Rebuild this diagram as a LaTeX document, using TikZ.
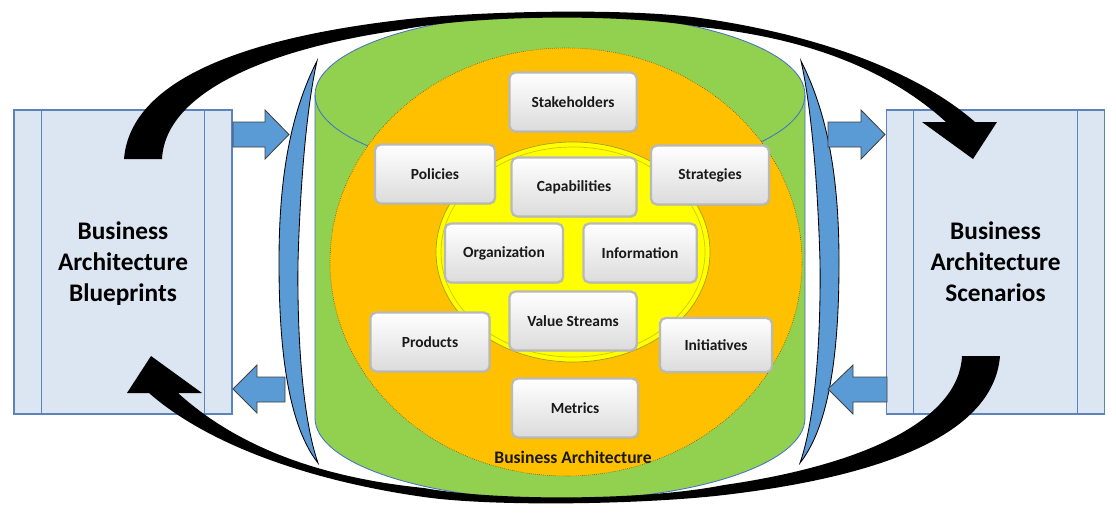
\documentclass[tikz,border=0pt]{standalone}
\usepackage{fontspec}
\setmainfont{Carlito}
\usetikzlibrary{shadows}

\definecolor{cangreen}{HTML}{92D050}
\definecolor{canline}{HTML}{4472C4}
\definecolor{ringorange}{HTML}{FFC000}
\definecolor{coreyellow}{HTML}{FFFF00}
\definecolor{arrowblue}{HTML}{5B9BD5}
\definecolor{boxfill}{HTML}{DCE6F2}
\definecolor{boxline}{HTML}{5B84BD}

\tikzset{
	bluebox/.style={draw=boxline, fill=boxfill, line width=0.8pt, minimum width=5.45cm, minimum height=7.6cm, align=center, font=\fontsize{18}{22}\selectfont\bfseries},
	button/.style={draw=gray!55, line width=1.6pt, rounded corners=4pt, top color=white, bottom color=gray!28, minimum height=1.47cm, align=center, font=\fontsize{11}{12}\selectfont\bfseries, text=black!90, drop shadow={opacity=0.25, shadow xshift=0.8pt, shadow yshift=-0.8pt}},
	blockarrow/.style={fill=arrowblue, draw=black!75, line width=0.6pt},
	crescent/.style={fill=arrowblue, draw=black, line width=0.6pt}
}

\begin{document}
\begin{tikzpicture}[x=0.025cm, y=-0.025cm]
	\useasboundingbox (0,0) rectangle (1116,514);
	% side boxes
	\node[bluebox, text depth=-0.15cm] (blueprints) at (123,262) {Business\\Architecture\\Blueprints};
	\node[bluebox, text depth=-0.15cm] (scenarios) at (995.5,262) {Business\\Architecture\\Scenarios};
	\draw[boxline, line width=0.8pt] ([xshift=0.7cm]blueprints.north west) -- ([xshift=0.7cm]blueprints.south west);
	\draw[boxline, line width=0.8pt] ([xshift=-0.7cm]blueprints.north east) -- ([xshift=-0.7cm]blueprints.south east);
	\draw[boxline, line width=0.8pt] ([xshift=0.7cm]scenarios.north west) -- ([xshift=0.7cm]scenarios.south west);
	\draw[boxline, line width=0.8pt] ([xshift=-0.7cm]scenarios.north east) -- ([xshift=-0.7cm]scenarios.south east);
	% the can
	\draw[fill=cangreen, draw=canline, line width=0.6pt] (315,95) -- (315,418) arc[start angle=180, end angle=0, x radius=245, y radius=82] -- (805,95) arc[start angle=0, end angle=-180, x radius=245, y radius=82] -- cycle;
	\draw[canline, line width=0.6pt] (315,95) arc[start angle=180, end angle=0, x radius=245, y radius=82];
	\draw[fill=ringorange, draw=brown!50!black, densely dotted, line width=0.4pt] (566,262) ellipse [x radius=236, y radius=214];
	\draw[fill=coreyellow, draw=olive!80, line width=0.5pt] (573,252) ellipse [x radius=137, y radius=110];
	\draw[yellow!60!olive, line width=0.5pt] (573,252) ellipse [x radius=132, y radius=105];
	% buttons
	\node[button, minimum width=3.18cm] (stake) at (573,102) {Stakeholders};
	\node[button, minimum width=3.0cm] (pol) at (435,174) {Policies};
	\node[button, minimum width=3.12cm] (cap) at (574,187) {Capabilities};
	\node[button, minimum width=2.95cm] (strat) at (710,175) {Strategies};
	\node[button, minimum width=2.95cm] (org) at (504,253) {Organization};
	\node[button, minimum width=2.83cm] (info) at (640,253) {Information};
	\node[button, minimum width=3.18cm] (value) at (573,321) {Value Streams};
	\node[button, minimum width=2.98cm] (prod) at (430,342) {Products};
	\node[button, minimum width=2.8cm, minimum height=1.35cm] (init) at (716,345) {Initiatives};
	\node[button, minimum width=3.15cm] (metr) at (575,408) {Metrics};
	\node[font=\fontsize{12.5}{14}\selectfont\bfseries, text=black!90] (batitle) at (573,457) {Business Architecture};
	% brackets
	\draw[crescent] (317,61) .. controls (287,120) and (279,190) .. (279,262) .. controls (279,330) and (284,420) .. (318,463) .. controls (303,420) and (297,340) .. (298,262) .. controls (300,190) and (306,110) .. (317,61) -- cycle;
	\draw[crescent] (801,61) .. controls (831,120) and (839,190) .. (839,262) .. controls (839,330) and (834,420) .. (800,463) .. controls (815,420) and (821,340) .. (820,262) .. controls (818,190) and (812,110) .. (801,61) -- cycle;
	% block arrows
	\draw[blockarrow] (233,122) -- (265,122) -- (265,110) -- (289,134.5) -- (265,159) -- (265,147) -- (233,147) -- cycle;
	\draw[blockarrow] (828,122) -- (861,122) -- (861,110) -- (885,134.5) -- (861,159) -- (861,147) -- (828,147) -- cycle;
	\draw[blockarrow] (285,377) -- (257,377) -- (257,365) -- (233,389) -- (257,413) -- (257,402) -- (285,402) -- cycle;
	\draw[blockarrow] (887,377) -- (853,377) -- (853,365) -- (828,389) -- (853,414) -- (853,402) -- (887,402) -- cycle;
	% big curved arrows
	\fill (124,159) .. controls (130,85) and (230,40) .. (400,20) .. controls (480,10.6) and (630,8) .. (700,18) .. controls (800,32) and (910,65) .. (975,122) -- (997,122) -- (973,159) -- (922,122) -- (946,122) .. controls (880,62) and (790,36) .. (700,27) .. controls (630,14) and (480,14) .. (400,30) .. controls (260,50) and (165,95) .. (162,159) -- cycle;
	\fill[rotate around={180:(562,257.5)}] (124,159) .. controls (130,85) and (230,40) .. (400,20) .. controls (480,10.6) and (630,8) .. (700,18) .. controls (800,32) and (910,65) .. (975,122) -- (997,122) -- (973,159) -- (922,122) -- (946,122) .. controls (880,62) and (790,36) .. (700,27) .. controls (630,14) and (480,14) .. (400,30) .. controls (260,50) and (165,95) .. (162,159) -- cycle;
\end{tikzpicture}
\end{document}
